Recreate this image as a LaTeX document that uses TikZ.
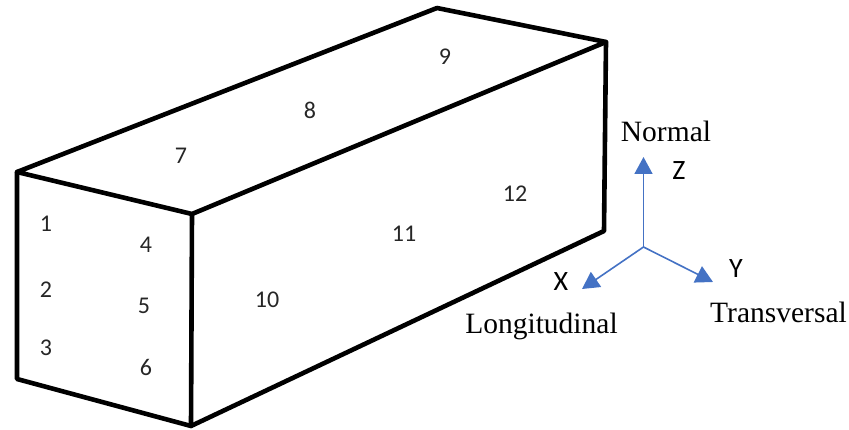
\documentclass[tikz,border=0pt]{standalone}
\usepackage{fontspec}
\setmainfont{Liberation Serif}
\setsansfont{Carlito}
\usetikzlibrary{arrows.meta}
\definecolor{cAxis}{HTML}{4472C4}

\begin{document}
\begin{tikzpicture}[
    x=1pt, y=-1pt,
    edge/.style={line width=4.6pt, black, line join=round, line cap=round},
    axis/.style={-{Triangle[length=17pt, width=18pt]}, line width=1.6pt, cAxis},
    num/.style={font=\sffamily\fontsize{24}{24}\selectfont, inner sep=0pt, text=black!85},
    axlbl/.style={font=\sffamily\fontsize{28}{28}\selectfont, inner sep=0pt},
    word/.style={font=\rmfamily\fontsize{29.5}{29.5}\selectfont, inner sep=0pt},
]
\useasboundingbox (0,0) rectangle (849,430);

% ===================== Esquinas de la caja =====================
\coordinate (topL) at (17,172);
\coordinate (topF) at (192,214);
\coordinate (topR) at (606,42);
\coordinate (topB) at (437,8);
\coordinate (botL) at (17,379);
\coordinate (botF) at (191,426);
\coordinate (botR) at (604,231);

% ===================== Aristas =====================
\draw[edge] (topL) -- (topF) -- (topR) -- (topB) -- cycle;
\draw[edge] (topL) -- (botL) -- (botF) -- (botR) -- (topR);
\draw[edge] (topF) -- (botF);

% ===================== Numeros =====================
\node[num] (n1) at (46,224) {1};
\node[num] (n2) at (46,290) {2};
\node[num] (n3) at (46,348) {3};
\node[num] (n4) at (146,245) {4};
\node[num] (n5) at (144,306) {5};
\node[num] (n6) at (146,367) {6};
\node[num] (n7) at (181,156) {7};
\node[num] (n8) at (310,110) {8};
\node[num] (n9) at (445,57) {9};
\node[num] (n10) at (267,300) {10};
\node[num] (n11) at (404,234) {11};
\node[num] (n12) at (515,194) {12};

% ===================== Ejes =====================
\coordinate (orig) at (643.5,247);
\coordinate (tipZ) at (643.5,157);
\coordinate (tipX) at (582,289);
\coordinate (tipY) at (713,282);
\draw[axis] (orig) -- (tipZ);
\draw[axis] (orig) -- (tipX);
\draw[axis] (orig) -- (tipY);

\node[axlbl] (lblZ) at (679,171) {Z};
\node[axlbl] (lblX) at (561,282) {X};
\node[axlbl] (lblY) at (736,269) {Y};
\node[word] (normal) at (666,131) {Normal};
\node[word] (longit) at (541.5,326) {Longitudinal};
\node[word] (transv) at (778.5,312) {Transversal};

\end{tikzpicture}
\end{document}
